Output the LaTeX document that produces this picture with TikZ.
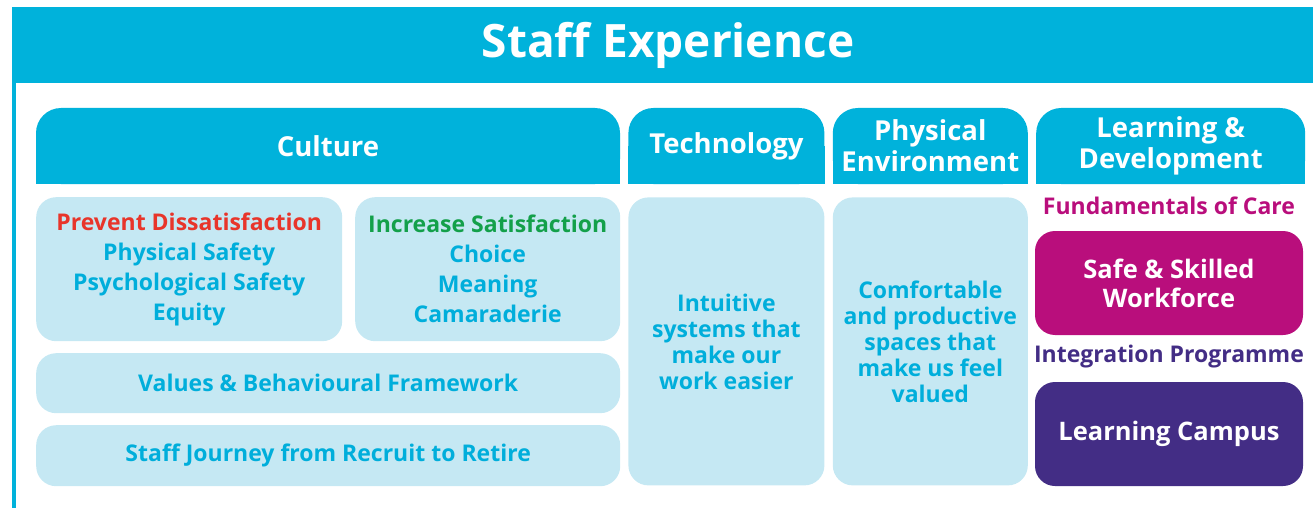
\documentclass[tikz,border=0pt]{standalone}
\usepackage{fontspec}
\setmainfont{Open Sans}
\usetikzlibrary{positioning,backgrounds}

\definecolor{sxcyan}{HTML}{00B2DB}
\definecolor{sxpale}{HTML}{C5E8F3}
\definecolor{sxtext}{HTML}{00AEDB}
\definecolor{sxred}{HTML}{E8352A}
\definecolor{sxgreen}{HTML}{13A04A}
\definecolor{sxmagenta}{HTML}{B90E7C}
\definecolor{sxpurple}{HTML}{432D85}

\tikzset{
  tab/.style={fill=sxcyan, rounded corners=25pt, text=white, align=center,
    font=\bfseries\fontsize{27.5}{31}\selectfont, inner sep=0pt, minimum height=76pt},
  panel/.style={fill=sxpale, rounded corners=20pt, text=sxtext, align=center,
    font=\bfseries\fontsize{23}{30}\selectfont, inner sep=0pt},
  badge/.style={rounded corners=20pt, text=white, align=center,
    font=\bfseries\fontsize{25.5}{29}\selectfont, inner sep=0pt,
    minimum width=268pt, minimum height=104pt},
  caption/.style={font=\bfseries\fontsize{23}{26}\selectfont, inner sep=0pt}
}

\begin{document}
\begin{tikzpicture}[x=1pt,y=-1pt]
    \useasboundingbox (0,0) rectangle (1313,508);

    % banner
    \fill[sxcyan] (12,7) rectangle (1313,83);
    \fill[sxcyan] (12,83) rectangle (16,508);
    \node[text=white, font=\bfseries\fontsize{46}{46}\selectfont, anchor=base] (title) at (668,58) {Staff Experience};

    % column tabs
    \node[tab, minimum width=584pt] (culture) at (328,146) {Culture};
    \node[tab, minimum width=196pt, right=8pt of culture] (technology) {Technology};
    \node[tab, minimum width=195pt, right=8pt of technology] (physical) {Physical\\Environment};
    \node[tab, minimum width=269pt, right=8pt of physical] (learning) {Learning \&\\Development};

    \begin{scope}[on background layer]
        \foreach \t in {culture,technology,physical,learning}
            \fill[sxcyan] (\t.west) rectangle (\t.south east);
    \end{scope}

    % culture panels
    \node[panel, anchor=north west, minimum width=306pt, minimum height=144pt] (prevent) at (36,197)
        {\textcolor{sxred}{Prevent Dissatisfaction}\\Physical Safety\\Psychological Safety\\Equity};
    \node[panel, anchor=north west, minimum width=265pt, minimum height=144pt] (increase) at (355,197)
        {\textcolor{sxgreen}{Increase Satisfaction}\\Choice\\Meaning\\Camaraderie};
    \node[panel, anchor=north west, minimum width=584pt, minimum height=60pt] (values) at (36,353)
        {Values \& Behavioural Framework};
    \node[panel, anchor=north west, minimum width=584pt, minimum height=61pt] (journey) at (36,425)
        {Staff Journey from Recruit to Retire};

    % technology and environment panels
    \node[panel, minimum width=196pt, minimum height=288pt, below=13pt of technology,
        font=\bfseries\fontsize{23}{26}\selectfont] (techbody)
        {Intuitive\\systems that\\make our\\work easier};
    \node[panel, minimum width=195pt, minimum height=288pt, below=13pt of physical,
        font=\bfseries\fontsize{23}{26}\selectfont] (physbody)
        {Comfortable\\and productive\\spaces that\\make us feel\\valued};

    % learning and development
    \node[caption, text=sxmagenta] (fundamentals) at (1169,206) {Fundamentals of Care};
    \node[badge, fill=sxmagenta] (skilled) at (1169,283) {Safe \& Skilled\\Workforce};
    \node[caption, text=sxpurple] (integration) at (1169,357) {Integration Programme};
    \node[badge, fill=sxpurple] (campus) at (1169,434) {Learning Campus};
\end{tikzpicture}
\end{document}
